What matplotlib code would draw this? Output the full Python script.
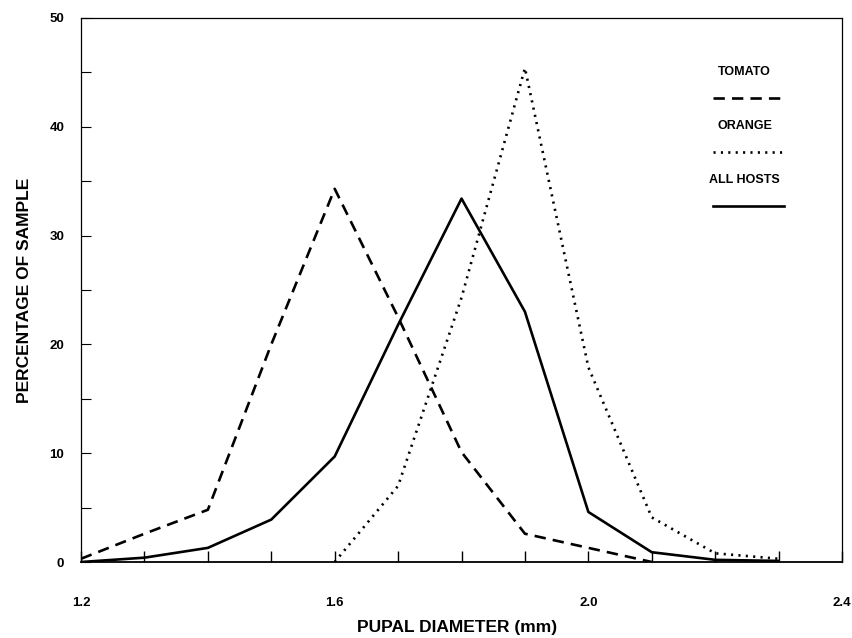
import matplotlib
matplotlib.use('Agg')
import matplotlib.pyplot as plt
from matplotlib.ticker import MultipleLocator, FixedLocator

# pupal diameter classes (mm)
diameters = [1.2, 1.3, 1.4, 1.5, 1.6, 1.7, 1.8, 1.9, 2.0, 2.1, 2.2, 2.3]

# percentage of sample per class
tomato_x = [1.2, 1.3, 1.4, 1.5, 1.6, 1.7, 1.8, 1.9, 2.0, 2.1]
tomato_y = [0.3, 2.6, 4.8, 20.0, 34.3, 22.5, 10.1, 2.6, 1.3, 0.0]

orange_x = [1.6, 1.7, 1.8, 1.9, 2.0, 2.1, 2.2, 2.3]
orange_y = [0.0, 7.0, 24.3, 45.4, 17.9, 4.1, 0.8, 0.3]

all_x = diameters
all_y = [0.0, 0.4, 1.3, 3.9, 9.7, 21.8, 33.4, 23.0, 4.6, 0.9, 0.2, 0.1]

x_labels = ['1.2', '1.6', '2.0', '2.4']

plt.rcParams['font.family'] = 'Liberation Sans'

fig = plt.figure(figsize=(8.52, 6.38), dpi=100)
ax = fig.add_axes([0.0951, 0.1191, 0.8932, 0.8527])

lw = 1.9
dash_t = (4.3, 2.7)
dash_o = (0.8, 2.0)
ax.plot(tomato_x, tomato_y, color='black', lw=lw, dashes=dash_t)
ax.plot(orange_x, orange_y, color='black', lw=lw, dashes=dash_o)
ax.plot(all_x, all_y, color='black', lw=lw)

ax.set_xlim(1.2, 2.4)
ax.set_ylim(0, 50)

# axis ticks: all pointing inward
ax.xaxis.set_major_locator(FixedLocator([float(s) for s in x_labels]))
ax.set_xticklabels(x_labels)
ax.xaxis.set_minor_locator(MultipleLocator(0.1))
ax.yaxis.set_major_locator(MultipleLocator(10))
ax.yaxis.set_minor_locator(MultipleLocator(5))
ax.tick_params(axis='x', which='both', direction='in', length=8, width=1, pad=25)
ax.tick_params(axis='y', which='both', direction='in', length=7, width=0.8, pad=12)
for lab in ax.get_xticklabels() + ax.get_yticklabels():
    lab.set_fontsize(9.5)
    lab.set_fontweight('bold')

for s in ['top', 'left', 'right']:
    ax.spines[s].set_linewidth(0.9)
ax.spines['bottom'].set_linewidth(1.3)

fig.text(0.029, 0.545, 'PERCENTAGE OF SAMPLE', fontsize=12.5, fontweight='bold',
         rotation=90, ha='center', va='center')
fig.text(0.537, 0.004, 'PUPAL DIAMETER (mm)', fontsize=12.5, fontweight='bold',
         ha='center', va='bottom')

# legend drawn by hand, label above each line sample
legend = [('TOMATO', dash_t), ('ORANGE', dash_o), ('ALL HOSTS', None)]
tx = 0.872
ty = 0.9007
for name, dash in legend:
    ax.text(tx, ty, name, transform=ax.transAxes, ha='center', va='center',
            fontsize=9, fontweight='bold')
    kw = dict(color='black', lw=lw, transform=ax.transAxes)
    if dash is not None:
        kw['dashes'] = dash
    ax.plot([tx - 0.042, tx + 0.052], [ty - 0.048, ty - 0.048], **kw)
    ty -= 0.0993

fig.savefig('out.png', dpi=100)
